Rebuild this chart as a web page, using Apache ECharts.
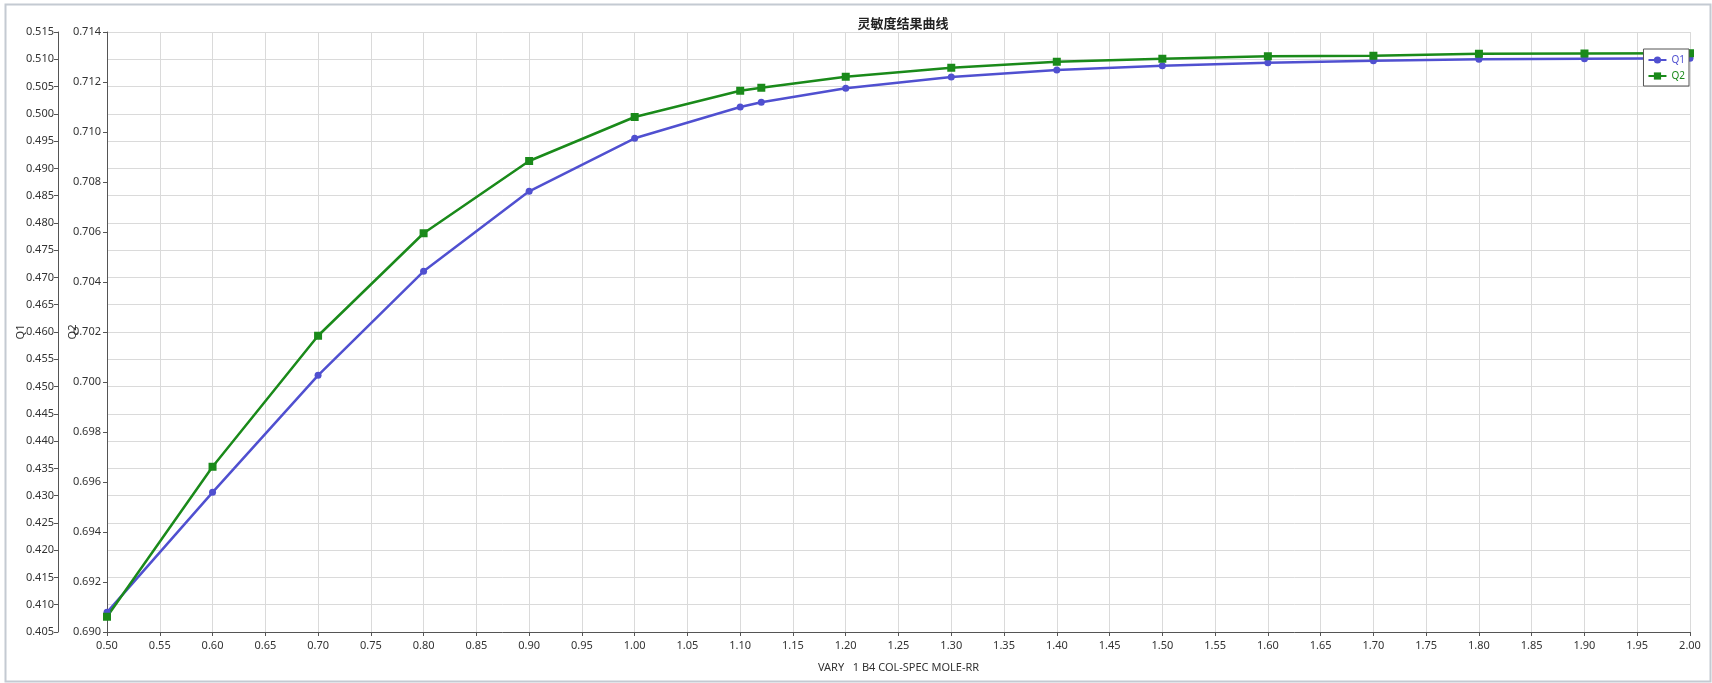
<!DOCTYPE html>
<html>
<head>
<meta charset="utf-8">
<script src="https://cdn.jsdelivr.net/npm/echarts@6/dist/echarts.min.js"></script>
<style>
html,body{margin:0;padding:0;background:#fff;}
#c{width:1712px;height:683px;}
</style>
</head>
<body>
<div id="c"></div>
<script>
const xValues = [0.5, 0.6, 0.7, 0.8, 0.9, 1.0, 1.1, 1.12, 1.2, 1.3, 1.4, 1.5, 1.6, 1.7, 1.8, 1.9, 2.0];
const q1Values = [0.40861, 0.43061, 0.45206, 0.47112, 0.48579, 0.49551, 0.50125, 0.50211, 0.50468, 0.50675, 0.50803, 0.50882, 0.50937, 0.50974, 0.51000, 0.51010, 0.51020];
const q2Values = [0.69061, 0.69661, 0.70185, 0.70595, 0.70884, 0.71060, 0.71165, 0.71177, 0.71221, 0.71257, 0.71281, 0.71293, 0.71303, 0.71305, 0.71313, 0.71314, 0.71315];
const titleText = '灵敏度结果曲线';
const xName = 'VARY   1 B4 COL-SPEC MOLE-RR';
const q1Name = 'Q1';
const q2Name = 'Q2';

const FONT = '"Noto Sans", "DejaVu Sans", sans-serif';
const chart = echarts.init(document.getElementById('c'), null, {renderer: 'canvas'});
const axisLineStyle = {show: true, lineStyle: {color: '#555', width: 1}};
const axisLabelStyle = {color: '#333', fontSize: 11, fontFamily: FONT};

chart.setOption({
  animation: false,
  backgroundColor: '#fff',
  graphic: [{
    type: 'rect', left: 3, top: 2, silent: true,
    shape: {width: 1705, height: 677},
    style: {fill: 'none', stroke: '#c4cad2', lineWidth: 2}
  }],
  title: {
    text: titleText, left: 898, top: 12, textAlign: 'center',
    textStyle: {fontSize: 13, fontWeight: 'bold', color: '#222', fontFamily: '"Noto Sans CJK SC", sans-serif'}
  },
  legend: {
    right: 23, top: 49, orient: 'vertical',
    backgroundColor: '#fff', borderColor: '#555', borderWidth: 1, borderRadius: 0,
    padding: [6, 4, 5, 4], itemGap: 6, itemWidth: 18, itemHeight: 9,
    textStyle: {fontSize: 10, fontFamily: FONT},
    data: [
      {name: q1Name, textStyle: {color: '#5050d0'}},
      {name: q2Name, textStyle: {color: '#1a8a1a'}}
    ]
  },
  grid: {left: 107, right: 22, top: 32, bottom: 51, containLabel: false},
  xAxis: {
    type: 'value', min: 0.5, max: 2.0, interval: 0.05,
    name: xName, nameLocation: 'middle', nameGap: 30,
    nameTextStyle: {color: '#333', fontSize: 11, fontFamily: FONT},
    axisLine: axisLineStyle,
    axisTick: {show: true, length: 4, lineStyle: {color: '#555'}},
    axisLabel: Object.assign({formatter: v => v.toFixed(2), margin: 8}, axisLabelStyle),
    splitLine: {show: true, lineStyle: {color: '#dadada', width: 1}}
  },
  yAxis: [{
    type: 'value', position: 'left', offset: 49,
    min: 0.405, max: 0.515, interval: 0.005,
    name: q1Name, nameLocation: 'middle', nameGap: 32, nameRotate: 90,
    nameMoveOverlap: false,
    nameTextStyle: {color: '#333', fontSize: 11, fontFamily: FONT},
    axisLine: axisLineStyle,
    axisTick: {show: true, length: 4, lineStyle: {color: '#555'}},
    axisLabel: Object.assign({formatter: v => v.toFixed(3), margin: 4}, axisLabelStyle),
    splitLine: {show: true, lineStyle: {color: '#dadada', width: 1}}
  }, {
    type: 'value', position: 'left', offset: 0,
    min: 0.690, max: 0.714, interval: 0.002,
    name: q2Name, nameLocation: 'middle', nameGap: 29, nameRotate: 90,
    nameMoveOverlap: false,
    nameTextStyle: {color: '#333', fontSize: 11, fontFamily: FONT},
    axisLine: axisLineStyle,
    axisTick: {show: true, length: 4, lineStyle: {color: '#555'}},
    axisLabel: Object.assign({formatter: v => v.toFixed(3), margin: 6}, axisLabelStyle),
    splitLine: {show: false}
  }],
  series: [{
    name: q1Name, type: 'line', yAxisIndex: 0,
    data: xValues.map((x, i) => [x, q1Values[i]]),
    symbol: 'circle', symbolSize: 7, showSymbol: true,
    lineStyle: {color: '#5050d0', width: 2.5},
    itemStyle: {color: '#5050d0'}
  }, {
    name: q2Name, type: 'line', yAxisIndex: 1,
    data: xValues.map((x, i) => [x, q2Values[i]]),
    symbol: 'rect', symbolSize: 8, showSymbol: true,
    lineStyle: {color: '#1a8a1a', width: 2.5},
    itemStyle: {color: '#1a8a1a'}
  }]
});
</script>
</body>
</html>
